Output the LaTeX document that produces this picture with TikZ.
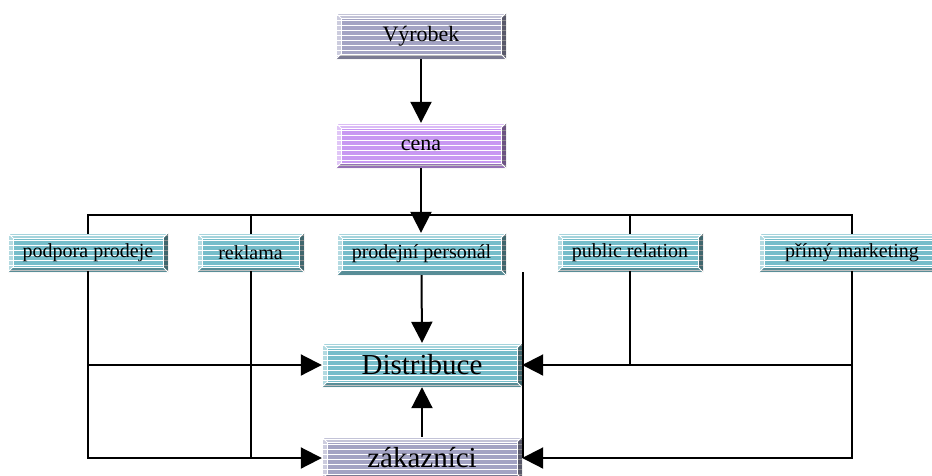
\documentclass[tikz,border=0pt]{standalone}
\usepackage{fontspec}
\setmainfont{Liberation Serif}
\usetikzlibrary{arrows.meta,calc}

\definecolor{lavbase}{HTML}{A3A3C3}
\definecolor{purbase}{HTML}{C898F2}
\definecolor{cyanbase}{HTML}{76BDCA}

\tikzset{
  panel/.style={rectangle, inner sep=0pt, fill=#1, draw=none,
    path picture={
      \coordinate (pnw) at (path picture bounding box.north west);
      \coordinate (pse) at (path picture bounding box.south east);
      \coordinate (pne) at (pnw -| pse);
      \coordinate (psw) at (pse -| pnw);
      % horizontal stripes
      \foreach \k in {0,...,19}
        \draw[white, line width=1.1pt]
          ($(pnw)+(0pt,-\k*5pt-2.5pt)$) -- ($(pne)+(0pt,-\k*5pt-2.5pt)$);
      % bevelled frame: light top and left, dark right and bottom
      \fill[white, opacity=0.35] (pnw) -- (pne) -- ($(pne)+(-5pt,-5pt)$) -- ($(pnw)+(5pt,-5pt)$) -- cycle;
      \fill[white, opacity=0.45] (pnw) -- (psw) -- ($(psw)+(5pt,5pt)$) -- ($(pnw)+(5pt,-5pt)$) -- cycle;
      \fill[black, opacity=0.45] (pne) -- (pse) -- ($(pse)+(-5pt,5pt)$) -- ($(pne)+(-5pt,-5pt)$) -- cycle;
      \fill[black, opacity=0.25] (psw) -- (pse) -- ($(pse)+(-5pt,5pt)$) -- ($(psw)+(5pt,5pt)$) -- cycle;
      \draw[white, line width=0.8pt] ($(pnw)+(5pt,-5pt)$) rectangle ($(pse)+(-5pt,5pt)$);
      \draw[white, line width=0.8pt]
        (pnw) -- ($(pnw)+(5pt,-5pt)$)
        (pne) -- ($(pne)+(-5pt,-5pt)$)
        (psw) -- ($(psw)+(5pt,5pt)$)
        (pse) -- ($(pse)+(-5pt,5pt)$);
      \draw[white, line width=1pt] (pnw) -- (pne) (pnw) -- (psw);
    }},
  smalltext/.style={font=\fontsize{20}{24}\selectfont},
  toptext/.style={font=\fontsize{22}{26}\selectfont},
  bigtext/.style={font=\fontsize{29}{34}\selectfont},
  link/.style={line width=2pt, line cap=rect},
  arr/.style={line width=2pt, -{Triangle[length=21pt,width=21pt]}},
}

\begin{document}
\begin{tikzpicture}[x=1pt, y=-1pt]
  \clip (0,0) rectangle (932,475);
  \fill[white] (0,0) rectangle (932,475);

  % boxes
  \node[panel=lavbase, toptext, minimum width=170pt, minimum height=46pt] (vyrobek) at (421,36) {Výrobek};
  \node[panel=purbase, toptext, minimum width=170pt, minimum height=45pt] (cena) at (421,145.5) {cena};

  \node[panel=cyanbase, smalltext, minimum width=160pt, minimum height=39pt] (podpora) at (88,252.5) {podpora prodeje};
  \node[panel=cyanbase, smalltext, minimum width=107pt, minimum height=39pt] (reklama) at (250.5,252.5) {reklama};
  \node[panel=cyanbase, smalltext, minimum width=169pt, minimum height=42pt] (personal) at (421.5,254) {prodejní personál};
  \node[panel=cyanbase, smalltext, minimum width=146pt, minimum height=39pt] (pr) at (630,252.5) {public relation};
  \node[panel=cyanbase, smalltext, minimum width=186pt, minimum height=39pt] (primy) at (852,252.5) {přímý marketing};

  \node[panel=cyanbase, bigtext, minimum width=200pt, minimum height=44pt] (distribuce) at (422,365) {Distribuce};
  \node[panel=lavbase, bigtext, minimum width=200pt, minimum height=42pt] (zakaznici) at (422,458) {zákazníci};

  % top chain
  \draw[arr] (vyrobek) -- (cena);
  \draw[arr] (cena.south) -- (cena.south |- personal.north);

  % distribution bus over the middle row
  \coordinate (busL) at (88,215);
  \coordinate (busR) at (852,215);
  \draw[link] (podpora.north) -- (busL) -- (busR) -- (primy.north);
  \draw[link] (reklama.north) -- (reklama.north |- busL);
  \draw[link] (pr.north) -- (pr.north |- busL);

  % left side feeds
  \draw[link] (podpora.south) -- (podpora.south |- zakaznici.west);
  \draw[arr] (podpora.south |- distribuce.west) -- (distribuce.west);
  \draw[arr] (podpora.south |- zakaznici.west) -- (zakaznici.west);
  \draw[link] (reklama.south) -- (reklama.south |- zakaznici.west);

  % right side feeds
  \draw[link] (pr.south) -- (pr.south |- distribuce.east);
  \draw[link] (primy.south) -- (primy.south |- zakaznici.east);
  \draw[arr] (primy.south |- distribuce.east) -- (distribuce.east);
  \draw[arr] (primy.south |- zakaznici.east) -- (zakaznici.east);

  % middle column
  \draw[arr] (personal.south) -- (distribuce.north);
  \draw[arr] (zakaznici.north) -- (distribuce.south);

  % lone vertical rule beside the lower boxes
  \coordinate (rtop) at (523,272);
  \coordinate (rbot) at (523,458);
  \draw[line width=1.6pt] (rtop) -- (rbot);
\end{tikzpicture}
\end{document}
